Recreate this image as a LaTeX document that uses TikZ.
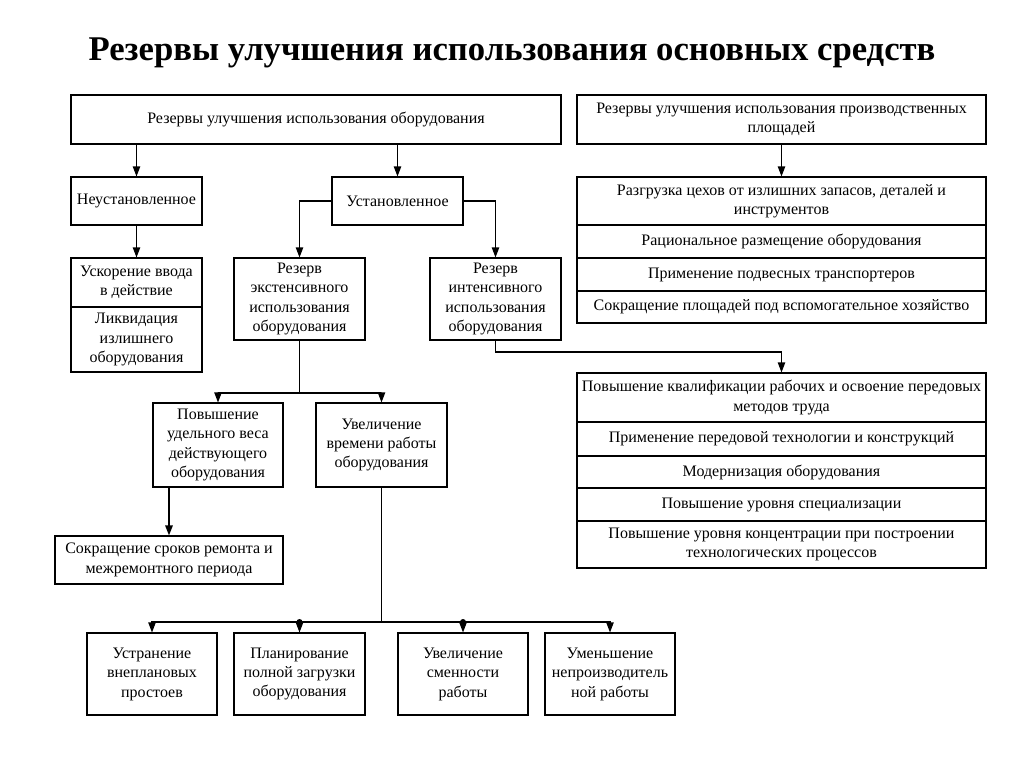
\documentclass[tikz,border=0pt]{standalone}
\usepackage{fontspec}
\setmainfont{Liberation Serif}
\usetikzlibrary{arrows.meta}
\tikzset{
  box/.style={draw, line width=0.8pt, align=center, inner sep=0pt, font=\fontsize{12}{14.6}\selectfont},
  conn/.style={line width=0.8pt},
  arr/.style={conn, -{Triangle[length=7.5pt,width=5.5pt]}},
  jdot/.style={circle, fill, inner sep=0pt, minimum size=4.5pt},
}
\newcommand\cell[6]{\node[box, minimum width={(#4-#2)*0.75pt}, minimum height={(#5-#3)*0.75pt}] (#1) at ({(#2+#4)/2},{(#3+#5)/2}) {#6};}
\begin{document}
\begin{tikzpicture}[x=0.75pt,y=-0.75pt]
\useasboundingbox (0,0) rectangle (1024,767);
\node[font=\bfseries\fontsize{26}{30}\selectfont, anchor=base, inner sep=0pt] (title) at (512,61) {Резервы улучшения использования основных средств};

\cell{top}{71}{95}{561}{144}{Резервы улучшения использования оборудования}
\cell{neu}{71}{177}{202}{225}{Неустановленное}
\cell{ust}{332}{177}{463}{225}{Установленное}
\cell{usk}{71}{258}{202}{307}{Ускорение ввода\\в действие}
\cell{liq}{71}{307}{202}{372}{Ликвидация\\излишнего\\оборудования}
\cell{ext}{234}{258}{365}{340}{Резерв\\экстенсивного\\использования\\оборудования}
\cell{int}{430}{258}{561}{340}{Резерв\\интенсивного\\использования\\оборудования}
\cell{pl}{577}{95}{986}{144}{Резервы улучшения использования производственных\\площадей}
\cell{p1}{577}{177}{986}{225}{Разгрузка цехов от излишних запасов, деталей и\\инструментов}
\cell{p2}{577}{225}{986}{258}{Рациональное размещение оборудования}
\cell{p3}{577}{258}{986}{291}{Применение подвесных транспортеров}
\cell{p4}{577}{291}{986}{323}{Сокращение площадей под вспомогательное хозяйство}
\cell{q1}{577}{373}{986}{422}{Повышение квалификации рабочих и освоение передовых\\методов труда}
\cell{q2}{577}{422}{986}{456}{Применение передовой технологии и конструкций}
\cell{q3}{577}{456}{986}{488}{Модернизация оборудования}
\cell{q4}{577}{488}{986}{521}{Повышение уровня специализации}
\cell{q5}{577}{521}{986}{568}{Повышение уровня концентрации при построении\\технологических процессов}
\cell{pov}{153}{403}{283}{487}{Повышение\\удельного веса\\действующего\\оборудования}
\cell{uvt}{316}{403}{447}{487}{Увеличение\\времени работы\\оборудования}
\cell{sok}{55}{536}{283}{584}{Сокращение сроков ремонта и\\межремонтного периода}
\cell{b1}{87}{633}{217}{715}{Устранение\\внеплановых\\простоев}
\cell{b2}{234}{633}{365}{715}{Планирование\\полной загрузки\\оборудования}
\cell{b3}{398}{633}{528}{715}{Увеличение\\сменности\\работы}
\cell{b4}{545}{633}{675}{715}{Уменьшение\\непроизводитель\\ной работы}

\coordinate (y352) at (0,352);
\coordinate (y393) at (0,393);
\coordinate (y622) at (0,622);

\draw[arr] (top.south -| neu.north) -- (neu.north);
\draw[arr] (top.south -| ust.north) -- (ust.north);
\draw[arr] (neu.south) -- (usk.north);
\draw[arr] (ust.west) -| (ext.north);
\draw[arr] (ust.east) -| (int.north);
\draw[arr] (pl.south) -- (p1.north);
\coordinate (j1) at (int.south |- y352);
\draw[arr] (int.south) -- (j1) -| (q1.north);

\coordinate (j2) at (ext.south |- y393);
\draw[conn] (ext.south) -- (j2);
\draw[arr] (j2) -| (pov.north);
\draw[arr] (j2) -| (uvt.north);
\draw[arr, line width=1.4pt] (pov.south -| sok.north) -- (sok.north);

\coordinate (j3) at (uvt.south |- y622);
\draw[conn] (uvt.south) -- (j3);
\draw[arr] (j3) -| (b1.north);
\draw[arr] (j3) -| (b2.north);
\draw[arr] (j3) -| (b3.north);
\draw[arr] (j3) -| (b4.north);
\node[jdot] (d2) at (b2.north |- y622) {};
\node[jdot] (d3) at (b3.north |- y622) {};
\end{tikzpicture}
\end{document}
